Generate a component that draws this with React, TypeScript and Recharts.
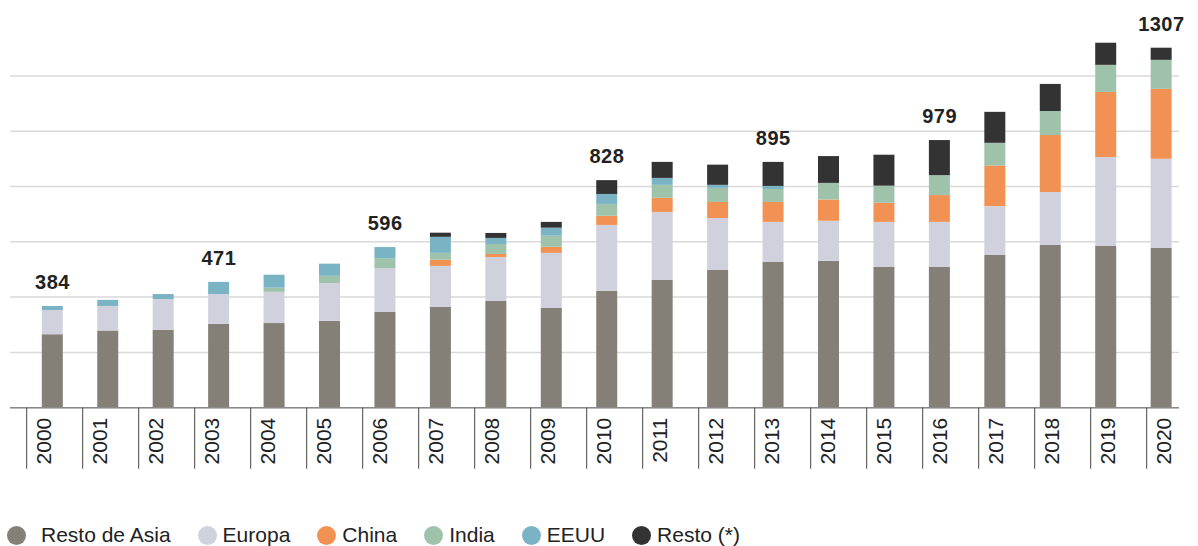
import React from 'react';
import { ComposedChart, Bar, Line, XAxis, YAxis, CartesianGrid, LabelList, Legend } from 'recharts';

const years = ['2000','2001','2002','2003','2004','2005','2006','2007','2008','2009','2010','2011','2012','2013','2014','2015','2016','2017','2018','2019','2020'];
const restoAsia = [266, 279, 282, 303, 306, 314, 346, 364, 386, 361, 422, 462, 498, 527, 531, 509, 509, 552, 588, 585, 578];
const europa = [87, 89, 111, 108, 113, 137, 159, 149, 159, 199, 239, 246, 188, 145, 145, 163, 163, 177, 192, 322, 322];
const china = [0, 0, 0, 0, 0, 0, 0, 22, 11, 22, 33, 51, 58, 72, 77, 69, 97, 147, 206, 235, 253];
const india = [0, 0, 0, 0, 15, 26, 36, 25, 36, 40, 43, 47, 51, 47, 60, 62, 72, 82, 87, 98, 105];
const eeuu = [15, 22, 18, 44, 47, 44, 40, 58, 22, 29, 36, 25, 11, 11, 0, 0, 0, 0, 0, 0, 0];
const resto = [0, 0, 0, 0, 0, 0, 0, 15, 18, 21, 50, 58, 73, 87, 97, 112, 127, 112, 98, 80, 44];
const totals: (number | null)[] = [384, null, null, 471, null, null, 596, null, null, null, 828, null, null, 895, null, null, 979, null, null, null, 1307];
const yTicks = [0, 200, 400, 600, 800, 1000, 1200];

const seriesKeys = ['restoAsia', 'europa', 'china', 'india', 'eeuu', 'resto'];
const seriesNames = ['Resto de Asia', 'Europa', 'China', 'India', 'EEUU', 'Resto (*)'];
const seriesColors = ['#847f77', '#d1d1de', '#f19254', '#9fc2ab', '#7ab4c4', '#333333'];

const data = years.map((year, i) => ({
  year,
  restoAsia: restoAsia[i],
  europa: europa[i],
  china: china[i],
  india: india[i],
  eeuu: eeuu[i],
  resto: resto[i],
}));

const stackTop = (d: any) => seriesKeys.reduce((s, k) => s + (d[k] || 0), 0);

const FONT = '"Liberation Sans", Arial, sans-serif';
const W = 1198;
const H = 546;
const PLOT_LEFT = 10;
const PLOT_RIGHT = 1179;
const TICK_PAD_L = 16.7;
const TICK_PAD_R = -23.7;
const tickBand = (PLOT_RIGHT - PLOT_LEFT - TICK_PAD_L - TICK_PAD_R) / years.length;

const YearTick = (props: any) => {
  const { x, y, payload } = props;
  const sep = x - tickBand / 2;
  const lx = x - 10.7;
  const ly = y + 10;
  return (
    <g>
      <line x1={sep} x2={sep} y1={y} y2={y + 61} stroke="#444" strokeWidth={1} />
      <text
        x={lx}
        y={ly}
        transform={`rotate(-90 ${lx} ${ly})`}
        textAnchor="end"
        dominantBaseline="central"
        fontFamily={FONT}
        fontSize={21}
        fill="#222"
      >
        {payload.value}
      </text>
    </g>
  );
};

const TotalLabel = (props: any) => {
  const { x, y, index } = props;
  const t = totals[index];
  if (t == null) return null;
  return (
    <text
      x={Number(x)}
      y={Number(y) - 17}
      textAnchor="middle"
      fontFamily={FONT}
      fontWeight={700}
      fontSize={20}
      letterSpacing={0.5}
      fill="#222"
    >
      {t}
    </text>
  );
};

const renderLegend = () => (
  <div style={{ display: 'flex', alignItems: 'center', fontFamily: FONT, fontSize: 21, color: '#222', height: 24, whiteSpace: 'nowrap' }}>
    {seriesNames.map((n, i) => (
      <div key={n} style={{ display: 'flex', alignItems: 'center', marginRight: 27 }}>
        <span
          style={{
            width: 19,
            height: 19,
            borderRadius: '50%',
            background: seriesColors[i],
            marginRight: i === 0 ? 15 : 6,
            display: 'inline-block',
          }}
        />
        <span>{n}</span>
      </div>
    ))}
  </div>
);

export default function App() {
  return (
    <div style={{ position: 'absolute', left: 0, top: 0, width: W, height: H, background: '#fff' }}>
      <ComposedChart
        width={W}
        height={H}
        data={data}
        margin={{ top: 20.6, right: W - PLOT_RIGHT, left: PLOT_LEFT, bottom: 52.3 }}
      >
        <CartesianGrid xAxisId="ticks" vertical={false} stroke="#d9d9d9" strokeWidth={1.5} horizontalValues={yTicks} />
        <YAxis hide domain={[0, 1400]} ticks={yTicks} type="number" />
        <XAxis xAxisId="bars" dataKey="year" hide height={0} padding={{ left: 14.8, right: -10.1 }} />
        <XAxis
          xAxisId="ticks"
          dataKey="year"
          height={62}
          interval={0}
          tickSize={0}
          tickMargin={0}
          tickLine={false}
          axisLine={{ stroke: '#8a8a8a', strokeWidth: 1.5 }}
          padding={{ left: TICK_PAD_L, right: TICK_PAD_R }}
          tick={<YearTick />}
        />
        {seriesKeys.map((k, i) => (
          <Bar
            key={k}
            xAxisId="bars"
            dataKey={k}
            name={seriesNames[i]}
            stackId="a"
            fill={seriesColors[i]}
            barSize={21}
            isAnimationActive={false}
          />
        ))}
        <Line
          xAxisId="bars"
          dataKey={stackTop}
          stroke="none"
          dot={false}
          activeDot={false}
          legendType="none"
          isAnimationActive={false}
        >
          <LabelList content={<TotalLabel />} />
        </Line>
        <Legend
          verticalAlign="bottom"
          content={renderLegend}
          wrapperStyle={{ left: 7, top: 523, bottom: 'auto', width: 'auto', height: 24 }}
        />
      </ComposedChart>
    </div>
  );
}
